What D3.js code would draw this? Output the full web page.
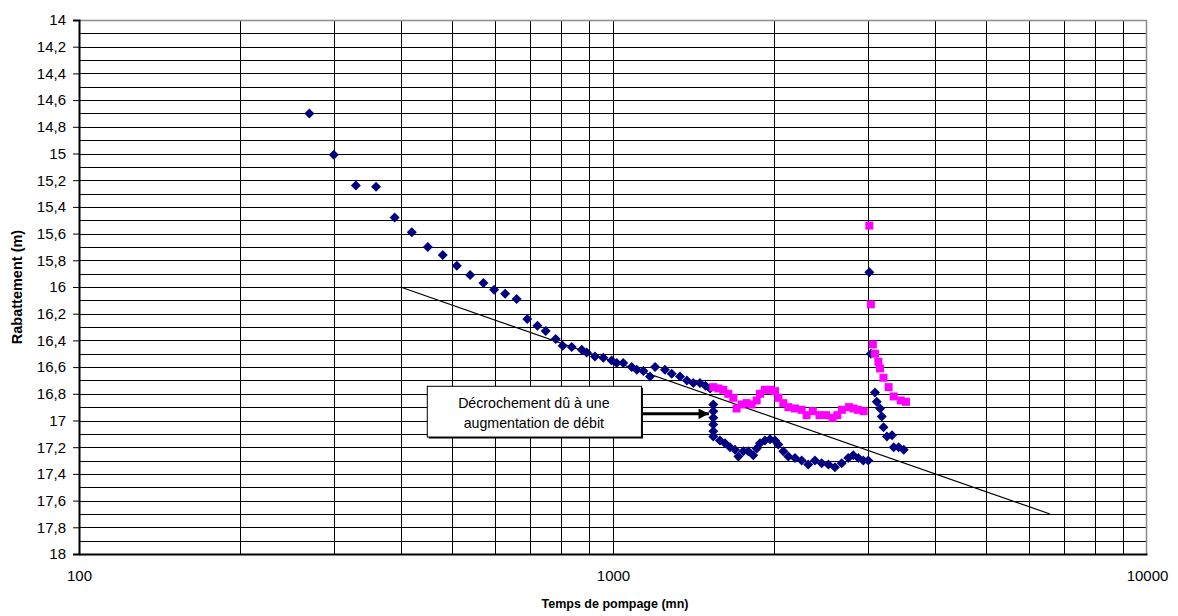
<!DOCTYPE html>
<html>
<head>
<meta charset="utf-8">
<script src="https://cdn.jsdelivr.net/npm/d3@7"></script>
<style>
  html, body { margin: 0; padding: 0; background: #fff; }
  text { font-family: "Liberation Sans", Arial, sans-serif; }
</style>
</head>
<body>
<svg id="chart" width="1178" height="616"></svg>
<script>
// Pumping test: drawdown vs pumping time (log scale)
const xTickValues = [100, 1000, 10000];
const yTickValues = [14, 14.2, 14.4, 14.6, 14.8, 15, 15.2, 15.4, 15.6, 15.8, 16, 16.2, 16.4, 16.6, 16.8, 17, 17.2, 17.4, 17.6, 17.8, 18];

// Series 1: measured drawdown (navy diamonds)
const s1Time = [270, 300, 330, 360, 390, 420, 450, 480, 510, 540, 572, 599, 628, 660, 691, 722, 748, 781, 805, 837, 874, 893, 925, 959, 994, 1016, 1045, 1084, 1108, 1140, 1173, 1199, 1251, 1288, 1335, 1375, 1414, 1455, 1490, 1520,
  1541, 1541, 1541, 1541, 1541, 1541,
  1586, 1621, 1656, 1692, 1717, 1754, 1792, 1831, 1858, 1885, 1925, 1968, 2011, 2040, 2084, 2130, 2192, 2256, 2321, 2389, 2459, 2531, 2604, 2681, 2758, 2818, 2880, 2943, 3006,
  3020, 3040, 3095, 3118, 3163, 3186, 3210, 3258, 3330, 3355, 3428, 3503];
const s1Value = [14.70, 15.01, 15.24, 15.25, 15.48, 15.59, 15.70, 15.76, 15.84, 15.91, 15.97, 16.02, 16.05, 16.09, 16.24, 16.29, 16.33, 16.39, 16.44, 16.45, 16.47, 16.49, 16.52, 16.53, 16.55, 16.57, 16.57, 16.60, 16.62, 16.63, 16.67, 16.60, 16.62, 16.65, 16.67, 16.70, 16.72, 16.72, 16.74, 16.76,
  16.88, 16.93, 16.98, 17.03, 17.08, 17.12,
  17.15, 17.17, 17.20, 17.22, 17.27, 17.23, 17.23, 17.26, 17.21, 17.17, 17.15, 17.14, 17.15, 17.18, 17.23, 17.27, 17.28, 17.30, 17.33, 17.30, 17.32, 17.33, 17.35, 17.32, 17.28, 17.26, 17.28, 17.30, 17.30,
  15.89, 16.50, 16.79, 16.86, 16.91, 16.97, 17.05, 17.12, 17.11, 17.20, 17.20, 17.22];

// Series 2: corrected drawdown (magenta squares)
const s2Time = [1541, 1575, 1609, 1644, 1680, 1704, 1741, 1779, 1818, 1858, 1885, 1925, 1968, 2011, 2040, 2084, 2130, 2192, 2256, 2304, 2367, 2436, 2506, 2578, 2630, 2683, 2766, 2820, 2875, 2947,
  3020, 3040, 3066, 3095, 3140, 3163, 3210, 3282, 3355, 3459, 3537];
const s2Value = [16.75, 16.76, 16.77, 16.80, 16.83, 16.91, 16.88, 16.87, 16.88, 16.85, 16.80, 16.77, 16.77, 16.78, 16.83, 16.87, 16.90, 16.91, 16.92, 16.96, 16.93, 16.96, 16.96, 16.98, 16.96, 16.92, 16.90, 16.91, 16.92, 16.93,
  15.54, 16.13, 16.43, 16.50, 16.56, 16.61, 16.68, 16.75, 16.82, 16.85, 16.86];

// Straight-line fit (Jacob)
const fitTime = [400, 6580];
const fitValue = [16.0, 17.7];

// Annotation
const noteLines = ["Décrochement dû à une", "augmentation de débit"];
const noteBoxTime = [448, 1128];
const noteBoxValue = [16.74, 17.12];
const noteArrowTip = { t: 1513, v: 16.95 };

const svg = d3.select("#chart");
const W = 1178, H = 616;
const margin = { left: 79, right: W - 1147, top: 20, bottom: H - 554 };

const x = d3.scaleLog().domain([100, 10000]).range([margin.left, W - margin.right]);
const y = d3.scaleLinear().domain([14, 18]).range([margin.top, H - margin.bottom]);

const [x0, x1] = x.range();
const [y0, y1] = y.range();

// Grid: horizontal every 0.1, vertical at each log subdivision
const hGrid = d3.range(0, 41).map(i => 14 + i * 0.1);
const vGrid = [];
[100, 1000].forEach(d => { for (let k = 1; k <= 10; k++) vGrid.push(d * k); });

const grid = svg.append("g");
grid.selectAll("line.h").data(hGrid.slice(1, -1)).join("line")
  .attr("x1", x0).attr("x2", x1)
  .attr("y1", d => Math.round(y(d)) + 0.5).attr("y2", d => Math.round(y(d)) + 0.5)
  .attr("stroke", "#000").attr("stroke-width", 1);
grid.selectAll("line.v").data(vGrid.filter(d => d > 100 && d < 10000)).join("line")
  .attr("y1", y0).attr("y2", y1)
  .attr("x1", d => Math.round(x(d)) + 0.5).attr("x2", d => Math.round(x(d)) + 0.5)
  .attr("stroke", "#000").attr("stroke-width", 1);

// Plot frame: grey top/right, black axes
svg.append("line").attr("x1", x0).attr("x2", x1).attr("y1", y0 + 0.5).attr("y2", y0 + 0.5).attr("stroke", "#8c8c8c").attr("stroke-width", 1.5);
svg.append("line").attr("x1", x1 - 0.5).attr("x2", x1 - 0.5).attr("y1", y0).attr("y2", y1).attr("stroke", "#8c8c8c").attr("stroke-width", 1.5);

// Y axis
const yAxis = d3.axisLeft(y).tickValues(yTickValues).tickSize(6).tickPadding(7)
  .tickFormat(d => String(+d.toFixed(1)).replace(".", ","));
const gy = svg.append("g").attr("transform", `translate(${x0},0)`).call(yAxis);
gy.select(".domain").attr("stroke", "#000").attr("stroke-width", 2);
gy.selectAll(".tick line").attr("stroke", "#000").attr("stroke-width", 1);
gy.selectAll(".tick text").attr("font-size", 15).attr("fill", "#000")
  .attr("font-family", "'Liberation Sans', Arial, sans-serif");

// X axis
const xAxis = d3.axisBottom(x).tickValues(xTickValues).tickSize(0).tickPadding(16)
  .tickFormat(d3.format("d"));
const gx = svg.append("g").attr("transform", `translate(0,${y1})`).call(xAxis);
gx.select(".domain").attr("stroke", "#000").attr("stroke-width", 2);
gx.selectAll(".tick text").attr("font-size", 15).attr("fill", "#000")
  .attr("font-family", "'Liberation Sans', Arial, sans-serif");

// Axis titles
svg.append("text").attr("x", x(1000) + 2).attr("y", 608)
  .attr("text-anchor", "middle").attr("font-size", 12.5).attr("font-weight", "bold")
  .text("Temps de pompage (mn)");
svg.append("text").attr("transform", `translate(22,${(y0 + y1) / 2}) rotate(-90)`)
  .attr("text-anchor", "middle").attr("font-size", 14.5).attr("font-weight", "bold")
  .text("Rabattement (m)");

// Fit line
svg.append("line")
  .attr("x1", x(fitTime[0])).attr("y1", y(fitValue[0]))
  .attr("x2", x(fitTime[1])).attr("y2", y(fitValue[1]))
  .attr("stroke", "#000").attr("stroke-width", 1.2);

// Series 1: diamonds
const s1 = s1Time.map((t, i) => ({ t, v: s1Value[i] }));
svg.append("g").selectAll("path").data(s1).join("path")
  .attr("d", d3.symbol(d3.symbolSquare, 50)())
  .attr("transform", d => `translate(${x(d.t)},${y(d.v)}) rotate(45)`)
  .attr("fill", "#000080");

// Series 2: squares
const s2 = s2Time.map((t, i) => ({ t, v: s2Value[i] }));
svg.append("g").selectAll("path").data(s2).join("path")
  .attr("d", d3.symbol(d3.symbolSquare, 64)())
  .attr("transform", d => `translate(${x(d.t)},${y(d.v)})`)
  .attr("fill", "#ff00ff");

// Annotation box with shadow, text and arrow
const bx0 = x(noteBoxTime[0]), bx1 = x(noteBoxTime[1]);
const by0 = y(noteBoxValue[0]), by1 = y(noteBoxValue[1]);
const note = svg.append("g");
note.append("rect").attr("x", bx0 + 2).attr("y", by0 + 2).attr("width", bx1 - bx0).attr("height", by1 - by0)
  .attr("fill", "#000");
note.append("rect").attr("x", bx0 + 0.5).attr("y", by0 + 0.5).attr("width", bx1 - bx0).attr("height", by1 - by0)
  .attr("fill", "#fff").attr("stroke", "#000").attr("stroke-width", 1);
note.selectAll("text").data(noteLines).join("text")
  .attr("x", (bx0 + bx1) / 2).attr("y", (d, i) => by0 + 22 + i * 20)
  .attr("text-anchor", "middle").attr("font-size", 14.2).attr("fill", "#000")
  .text(d => d);

svg.append("defs").append("marker")
  .attr("id", "arrowhead").attr("viewBox", "0 0 10 10")
  .attr("refX", 10).attr("refY", 5).attr("markerWidth", 4.5).attr("markerHeight", 3.5)
  .attr("markerUnits", "strokeWidth").attr("orient", "auto")
  .append("path").attr("d", "M0,0 L10,5 L0,10 z").attr("fill", "#000");
svg.append("line")
  .attr("x1", bx1 + 2).attr("y1", y(noteArrowTip.v))
  .attr("x2", x(noteArrowTip.t)).attr("y2", y(noteArrowTip.v))
  .attr("stroke", "#000").attr("stroke-width", 3)
  .attr("marker-end", "url(#arrowhead)");
</script>
</body>
</html>
